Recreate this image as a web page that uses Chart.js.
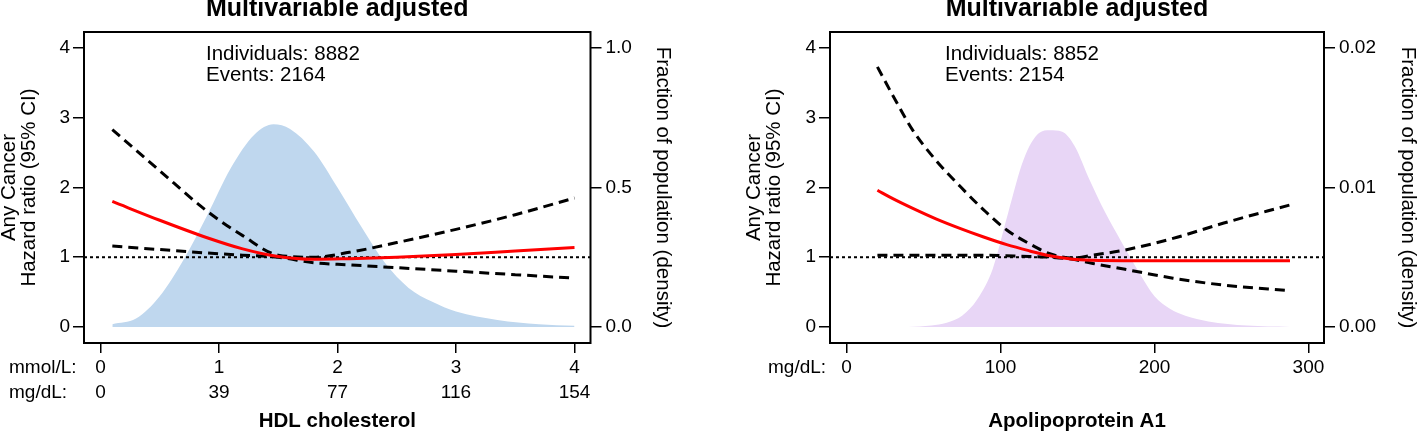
<!DOCTYPE html>
<html>
<head>
<meta charset="utf-8">
<script src="https://cdn.jsdelivr.net/npm/chart.js@4.4.1/dist/chart.umd.min.js"></script>
<style>
  body { margin: 0; background: #fff; }
  .wrap { display: flex; width: 1418px; height: 432px; }
  .panel { position: relative; width: 709px; height: 432px; }
</style>
</head>
<body>
<div class="wrap">
  <div class="panel"><canvas id="hdlChart"></canvas></div>
  <div class="panel"><canvas id="apoChart"></canvas></div>
</div>
<script>
// HDL cholesterol panel
const hdlTicks = [0, 1, 2, 3, 4];
const hdlMmolLabels = ["0", "1", "2", "3", "4"];
const hdlMgLabels = ["0", "39", "77", "116", "154"];
const hdlHrX = [0.1, 0.5, 0.9, 1.2, 1.5, 1.8, 2.1, 2.5, 3.0, 3.5, 4.0];
const hdlHr = [1.80, 1.53, 1.28, 1.12, 1.01, 0.97, 0.98, 1.00, 1.04, 1.09, 1.14];
const hdlHrUpper = [2.83, 2.24, 1.66, 1.31, 1.03, 1.00, 1.07, 1.21, 1.40, 1.61, 1.85];
const hdlHrLower = [1.16, 1.11, 1.06, 1.03, 1.00, 0.92, 0.89, 0.85, 0.80, 0.75, 0.70];
const hdlDensX = [0.1, 0.3, 0.5, 0.7, 0.9, 1.1, 1.3, 1.46, 1.6, 1.8, 2.0, 2.2, 2.4, 2.6, 2.8, 3.0, 3.35, 3.7, 4.0];
const hdlDens = [0.01, 0.03, 0.11, 0.24, 0.40, 0.57, 0.69, 0.727, 0.71, 0.63, 0.50, 0.36, 0.23, 0.14, 0.09, 0.055, 0.025, 0.01, 0.004];
const hdlDensTicks = [0, 0.5, 1.0];
const hdlDensLabels = ["0.0", "0.5", "1.0"];
const hdlNotes = ["Individuals: 8882", "Events: 2164"];

// Apolipoprotein A1 panel
const apoTicks = [0, 100, 200, 300];
const apoMgLabels = ["0", "100", "200", "300"];
const apoHrX = [20, 30, 43, 58, 74, 89, 104, 119, 132, 147, 160, 180, 212, 245, 288];
const apoHr = [1.96, 1.84, 1.70, 1.55, 1.41, 1.29, 1.18, 1.09, 1.02, 0.97, 0.955, 0.95, 0.95, 0.95, 0.95];
const apoHrUpper = [3.73, 3.32, 2.82, 2.39, 2.01, 1.68, 1.39, 1.19, 1.05, 0.99, 1.03, 1.10, 1.27, 1.49, 1.75];
const apoHrLower = [1.03, 1.03, 1.03, 1.03, 1.03, 1.03, 1.02, 1.01, 1.00, 0.97, 0.91, 0.83, 0.70, 0.60, 0.52];
const apoDensX = [20, 40, 55, 65, 75, 85, 95, 105, 115, 125, 132, 140, 148, 158, 168, 178, 190, 200, 210, 220, 235, 260, 288];
const apoDens = [0, 0, 0.0001, 0.0003, 0.0008, 0.002, 0.0042, 0.0082, 0.0120, 0.0139, 0.0141, 0.0140, 0.0130, 0.0105, 0.0082, 0.0062, 0.0039, 0.0022, 0.0013, 0.0008, 0.0004, 0.0001, 0];
const apoDensTicks = [0, 0.01, 0.02];
const apoDensLabels = ["0.00", "0.01", "0.02"];
const apoNotes = ["Individuals: 8852", "Events: 2154"];

const hrTicks = [0, 1, 2, 3, 4];
const hrRef = 1;
const hrMin = -0.23;
const hrMax = 4.23;

const FONT = '"Liberation Sans", Arial, Helvetica, sans-serif';

function points(xs, ys) {
  return xs.map((x, i) => ({ x: x, y: ys[i] }));
}

const framePlugin = {
  id: "frame",
  afterDraw(chart, args, opts) {
    const { ctx, chartArea: a } = chart;
    const xs = chart.scales.x;
    ctx.save();
    ctx.strokeStyle = "#000";
    ctx.lineWidth = 2;
    ctx.strokeRect(a.left, a.top, a.right - a.left, a.bottom - a.top);

    ctx.fillStyle = "#000";
    ctx.textBaseline = "middle";
    ctx.textAlign = "left";
    ctx.font = "20.5px " + FONT;
    opts.notes.forEach((t, i) => {
      ctx.fillText(t, a.left + opts.noteDx, a.top + 22 + i * 21);
    });

    // unit names in front of the x tick label rows
    const lh = 19 * 1.32;
    ctx.font = "19px " + FONT;
    opts.rows.forEach((t, i) => {
      ctx.fillText(t, opts.rowX, xs.top + 12 + lh / 2 + i * lh);
    });
    ctx.restore();
  },
};

function makeChart(canvas, p) {
  const xMin = p.xMin;
  const xMax = p.xMax;
  return new Chart(canvas, {
    type: "line",
    data: {
      datasets: [
        {
          label: "Reference",
          data: points([xMin, xMax], [hrRef, hrRef]),
          borderColor: "#000",
          borderWidth: 2,
          borderDash: [3, 3],
          pointRadius: 0,
          order: 4,
        },
        {
          label: "Lower CI",
          data: points(p.hrX, p.lower),
          borderColor: "#000",
          borderWidth: 3,
          borderDash: [10, 6],
          pointRadius: 0,
          cubicInterpolationMode: "monotone",
          order: 3,
        },
        {
          label: "Upper CI",
          data: points(p.hrX, p.upper),
          borderColor: "#000",
          borderWidth: 3,
          borderDash: [10, 6],
          pointRadius: 0,
          cubicInterpolationMode: "monotone",
          order: 2,
        },
        {
          label: "Hazard ratio",
          data: points(p.hrX, p.hr),
          borderColor: "#ff0000",
          borderWidth: 3,
          pointRadius: 0,
          cubicInterpolationMode: "monotone",
          order: 1,
        },
        {
          label: "Density",
          data: points(p.densX, p.dens),
          yAxisID: "y2",
          borderWidth: 0,
          backgroundColor: p.densColor,
          fill: "origin",
          pointRadius: 0,
          cubicInterpolationMode: "monotone",
          order: 10,
        },
      ],
    },
    options: {
      responsive: true,
      maintainAspectRatio: false,
      animation: false,
      devicePixelRatio: 1,
      layout: { padding: 0 },
      plugins: {
        legend: { display: false },
        tooltip: { enabled: false },
        title: {
          display: true,
          fullSize: false,
          text: "Multivariable adjusted",
          color: "#000",
          font: { family: FONT, size: 25, weight: "bold", lineHeight: 1 },
          padding: { top: -3, bottom: 10 },
        },
        frame: { notes: p.notes, noteDx: p.noteDx, rows: p.rows, rowX: p.rowX },
      },
      scales: {
        x: {
          type: "linear",
          min: xMin,
          max: xMax,
          afterBuildTicks: (s) => {
            s.ticks = p.xTicks.map((v) => ({ value: v }));
          },
          afterFit: (s) => {
            s.height = 89;
          },
          ticks: {
            autoSkip: false,
            maxRotation: 0,
            padding: 2,
            color: "#000",
            font: { family: FONT, size: 19, lineHeight: 1.32 },
            callback: (v, i) => p.xLabels.map((row) => row[i]),
          },
          grid: { drawOnChartArea: false, tickLength: 10, color: "#000", lineWidth: 1.5 },
          border: { display: false },
          title: {
            display: true,
            text: p.xTitle,
            color: "#000",
            font: { family: FONT, size: 20.5, weight: "bold", lineHeight: 1 },
            padding: 0,
          },
        },
        y: {
          type: "linear",
          position: "left",
          min: hrMin,
          max: hrMax,
          afterBuildTicks: (s) => {
            s.ticks = hrTicks.map((v) => ({ value: v }));
          },
          afterFit: (s) => {
            s.width = p.leftW;
          },
          ticks: {
            padding: 3,
            color: "#000",
            font: { family: FONT, size: 19 },
            callback: (v) => String(v),
          },
          grid: { drawOnChartArea: false, tickLength: 11, color: "#000", lineWidth: 1.5 },
          border: { display: false },
          title: {
            display: true,
            text: ["Any Cancer", "Hazard ratio (95% CI)"],
            color: "#000",
            font: { family: FONT, size: 20.5, lineHeight: 0.95 },
            padding: { top: p.leftTitlePad, bottom: 0 },
          },
        },
        y2: {
          type: "linear",
          position: "right",
          min: hrMin * p.densScale,
          max: hrMax * p.densScale,
          afterBuildTicks: (s) => {
            s.ticks = p.densTicks.map((v) => ({ value: v }));
          },
          afterFit: (s) => {
            s.width = p.rightW;
          },
          ticks: {
            padding: 4,
            color: "#000",
            font: { family: FONT, size: 19 },
            callback: (v, i) => p.densLabels[i],
          },
          grid: { drawOnChartArea: false, tickLength: 11, color: "#000", lineWidth: 1.5 },
          border: { display: false },
          title: {
            display: true,
            text: "Fraction of population (density)",
            color: "#000",
            font: { family: FONT, size: 20.5, lineHeight: 1 },
            padding: { top: p.rightTitlePad, bottom: 0 },
          },
        },
      },
    },
    plugins: [framePlugin],
  });
}

makeChart(document.getElementById("hdlChart"), {
  xMin: -0.139,
  xMax: 4.135,
  xTicks: hdlTicks,
  xLabels: [hdlMmolLabels, hdlMgLabels],
  rows: ["mmol/L:", "mg/dL:"],
  rowX: 9,
  xTitle: "HDL cholesterol",
  hrX: hdlHrX,
  hr: hdlHr,
  upper: hdlHrUpper,
  lower: hdlHrLower,
  densX: hdlDensX,
  dens: hdlDens,
  densTicks: hdlDensTicks,
  densLabels: hdlDensLabels,
  densScale: 0.25,
  densColor: "#bfd7ee",
  notes: hdlNotes,
  noteDx: 122,
  leftW: 84,
  rightW: 118.5,
  leftTitlePad: 0,
  rightTitlePad: 36.5,
});

makeChart(document.getElementById("apoChart"), {
  xMin: -10.8,
  xMax: 310.1,
  xTicks: apoTicks,
  xLabels: [apoMgLabels],
  rows: ["mg/dL:"],
  rowX: 59,
  xTitle: "Apolipoprotein A1",
  hrX: apoHrX,
  hr: apoHr,
  upper: apoHrUpper,
  lower: apoHrLower,
  densX: apoDensX,
  dens: apoDens,
  densTicks: apoDensTicks,
  densLabels: apoDensLabels,
  densScale: 0.005,
  densColor: "#e8d6f6",
  notes: apoNotes,
  noteDx: 115,
  leftW: 121,
  rightW: 94,
  leftTitlePad: 36,
  rightTitlePad: 0.5,
});
</script>
</body>
</html>
